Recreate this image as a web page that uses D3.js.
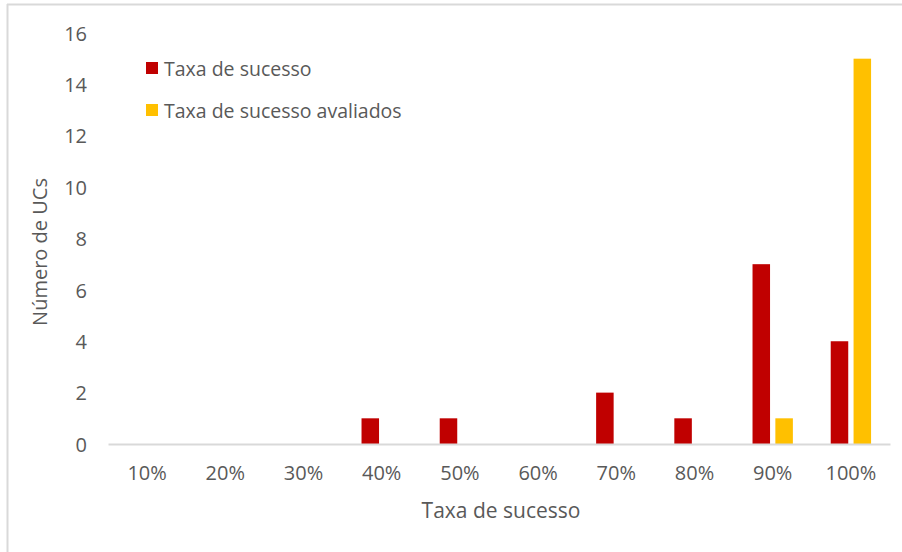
<!DOCTYPE html>
<html>
<head>
<meta charset="utf-8">
<script src="https://cdn.jsdelivr.net/npm/d3@7"></script>
<style>
  html, body { margin: 0; padding: 0; background: #fff; }
  svg { display: block; font-family: "Open Sans", sans-serif; }
</style>
</head>
<body>
<svg id="chart" width="902" height="552"></svg>
<script>
// Success-rate bins on the x axis
const categories = ["10%", "20%", "30%", "40%", "50%", "60%", "70%", "80%", "90%", "100%"];
// Number of UCs per bin, for each series
const seriesNames = ["Taxa de sucesso", "Taxa de sucesso avaliados"];
const taxaSucesso = [0, 0, 0, 1, 1, 0, 2, 1, 7, 4];
const taxaSucessoAvaliados = [0, 0, 0, 0, 0, 0, 0, 0, 1, 15];
const yTicks = [0, 2, 4, 6, 8, 10, 12, 14, 16];
const colors = ["#C00000", "#FFC000"];

const svg = d3.select("#chart");
const textColor = "#595959";
const lineColor = "#D9D9D9";
const font = "'Open Sans', sans-serif";

// Chart area frame (only top and left edges fall inside the view)
svg.append("line").attr("x1", 7).attr("x2", 902).attr("y1", 4.5).attr("y2", 4.5)
  .attr("stroke", lineColor).attr("stroke-width", 2);
svg.append("line").attr("x1", 7.5).attr("x2", 7.5).attr("y1", 4).attr("y2", 552)
  .attr("stroke", lineColor).attr("stroke-width", 2);

const plot = { left: 108, right: 890, top: 33, bottom: 444 };

const x = d3.scaleBand().domain(categories).range([plot.left, plot.right]).padding(0);
const y = d3.scaleLinear().domain([0, 16]).range([plot.bottom, plot.top]);

// Two bars per category, with a small gap between them
const barW = x.bandwidth() * 0.224;
const gap = x.bandwidth() * 0.068;
const xs = d3.scaleOrdinal().domain([0, 1])
  .range([x.bandwidth() / 2 - gap / 2 - barW, x.bandwidth() / 2 + gap / 2]);

const data = [taxaSucesso, taxaSucessoAvaliados];
data.forEach((vals, si) => {
  svg.append("g").selectAll("rect")
    .data(vals.map((v, i) => ({ cat: categories[i], v })).filter(d => d.v > 0))
    .join("rect")
    .attr("x", d => x(d.cat) + xs(si))
    .attr("width", barW)
    .attr("y", d => y(d.v))
    .attr("height", d => y(0) - y(d.v))
    .attr("fill", colors[si]);
});

// Y axis labels (no axis line)
const yAxis = d3.axisLeft(y).tickValues(yTicks).tickSize(0).tickPadding(0);
const gy = svg.append("g").attr("transform", `translate(${plot.left - 21},0)`).call(yAxis);
gy.select(".domain").remove();
gy.selectAll("text").attr("fill", textColor).attr("font-size", 20)
  .attr("font-family", font).attr("dy", "0.36em");

// X axis: baseline and category labels
const xAxis = d3.axisBottom(x).tickSize(0).tickPadding(0);
const gx = svg.append("g").attr("transform", `translate(0,${plot.bottom})`).call(xAxis);
gx.select(".domain").attr("stroke", lineColor).attr("stroke-width", 2);
gx.selectAll("text").attr("fill", textColor).attr("font-size", 20)
  .attr("font-family", font).attr("dy", null).attr("y", 36);

// Axis titles
svg.append("text").attr("x", (plot.left + plot.right) / 2 + 2).attr("y", 518)
  .attr("text-anchor", "middle").attr("fill", textColor).attr("font-size", 21)
  .text("Taxa de sucesso");
svg.append("text").attr("transform", "translate(47,252) rotate(-90)")
  .attr("text-anchor", "middle").attr("fill", textColor).attr("font-size", 20)
  .text("Número de UCs");

// Legend
const legend = svg.append("g").selectAll("g").data(seriesNames).join("g")
  .attr("transform", (d, i) => `translate(146,${62 + i * 42})`);
legend.append("rect").attr("width", 12).attr("height", 12).attr("fill", (d, i) => colors[i]);
legend.append("text").attr("x", 18).attr("y", 14).attr("fill", textColor)
  .attr("font-size", 19.5).text(d => d);
</script>
</body>
</html>
